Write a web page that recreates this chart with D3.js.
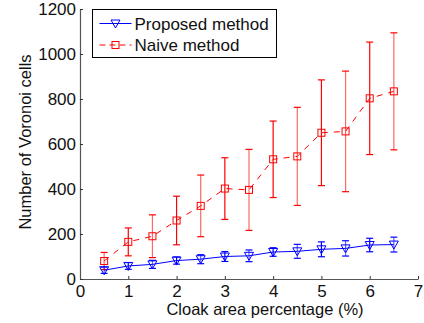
<!DOCTYPE html>
<html>
<head>
<meta charset="utf-8">
<script src="https://cdn.jsdelivr.net/npm/d3@7/dist/d3.min.js"></script>
<style>
  body { margin: 0; background: #fff; }
  svg { display: block; font-family: "Liberation Sans", Arial, sans-serif; }
</style>
</head>
<body>
<div class="chart"></div>
<script>
// data
var xs = [0.5, 1, 1.5, 2, 2.5, 3, 3.5, 4, 4.5, 5, 5.5, 6, 6.5];
var proposed    = [39, 58, 65, 82, 88, 100, 103, 120, 123, 132, 136, 151, 153];
var proposedErr = [14, 15, 18, 16, 20, 22, 26, 19, 31, 33, 34, 30, 33];
var naive    = [80, 165, 190, 260, 325, 402, 396, 532, 545, 650, 656, 803, 834];
var naiveErr = [38, 62, 95, 108, 137, 137, 180, 170, 218, 235, 268, 250, 260];
var xTicks = [0, 1, 2, 3, 4, 5, 6, 7];
var yTicks = [0, 200, 400, 600, 800, 1000, 1200];

var W = 424, H = 323,
    margin = {top: 9, right: 6, bottom: 44, left: 80},
    width = W - margin.left - margin.right,
    height = H - margin.top - margin.bottom;

var svg = d3.select(".chart").append("svg")
    .attr("width", W)
    .attr("height", H);

var g = svg.append("g")
    .attr("transform", "translate(" + margin.left + "," + margin.top + ")");

var x = d3.scaleLinear().domain([0, 7]).range([0, width]);
var y = d3.scaleLinear().domain([0, 1200]).range([height, 0]);

// axes
var xAxis = g.append("g")
    .attr("transform", "translate(0," + height + ")")
    .call(d3.axisBottom(x).tickValues(xTicks).tickFormat(d3.format("d"))
      .tickSizeInner(-3).tickSizeOuter(0).tickPadding(4));
var yAxis = g.append("g")
    .call(d3.axisLeft(y).tickValues(yTicks).tickFormat(d3.format("d"))
      .tickSizeInner(-3).tickSizeOuter(0).tickPadding(4));

[xAxis, yAxis].forEach(function(a) {
  a.select(".domain").attr("stroke", "#555").attr("stroke-width", 1.2);
  a.selectAll(".tick line").attr("stroke", "#333");
  a.selectAll(".tick text").attr("fill", "#111").style("font-size", "17px");
});
xAxis.selectAll(".tick text").attr("dy", "0.85em");

// labels
svg.append("text")
    .attr("x", 265).attr("y", 315)
    .attr("text-anchor", "middle")
    .style("font-size", "16.5px").attr("fill", "#111")
    .text("Cloak area percentage (%)");

svg.append("text")
    .attr("transform", "translate(31,142) rotate(-90)")
    .attr("text-anchor", "middle")
    .style("font-size", "16.5px").attr("fill", "#111")
    .text("Number of Voronoi cells");

var series = [
  {name: "Naive method", vals: naive, err: naiveErr, color: "#ff0000", dash: "6,6", marker: "square"},
  {name: "Proposed method", vals: proposed, err: proposedErr, color: "#0000ff", dash: null, marker: "tri"}
];

var line = d3.line()
    .x(function(d, i) { return x(xs[i]); })
    .y(function(d) { return y(d); });

function drawMarker(sel, type, color) {
  if (type === "square") {
    sel.append("rect")
      .attr("x", -3.5).attr("y", -3.5)
      .attr("width", 7).attr("height", 7)
      .attr("fill", "none").attr("stroke", color).attr("stroke-width", 1);
  } else {
    sel.append("path")
      .attr("d", "M-4.5,-3.5L4.5,-3.5L0,4.5Z")
      .attr("fill", "none").attr("stroke", color).attr("stroke-width", 1);
  }
}

series.forEach(function(s) {
  var sg = g.append("g");
  // error bars
  var eb = sg.selectAll(".err").data(s.vals).enter().append("g")
      .attr("stroke", s.color).attr("stroke-width", 1.2);
  eb.append("line")
      .attr("x1", function(d, i) { return x(xs[i]); })
      .attr("x2", function(d, i) { return x(xs[i]); })
      .attr("y1", function(d, i) { return y(d - s.err[i]); })
      .attr("y2", function(d, i) { return y(d + s.err[i]); })
      .attr("stroke-opacity", function(d, i) { return i % 2 ? 1 : 0.6; });
  [1, -1].forEach(function(sign) {
    eb.append("line")
      .attr("x1", function(d, i) { return x(xs[i]) - 3.5; })
      .attr("x2", function(d, i) { return x(xs[i]) + 3.5; })
      .attr("y1", function(d, i) { return y(d + sign * s.err[i]); })
      .attr("y2", function(d, i) { return y(d + sign * s.err[i]); });
  });
  // line
  sg.append("path")
      .datum(s.vals)
      .attr("d", line)
      .attr("fill", "none")
      .attr("stroke", s.color)
      .attr("stroke-width", 1)
      .attr("stroke-dasharray", s.dash);
  // markers
  sg.selectAll(".mk").data(s.vals).enter().append("g")
      .attr("transform", function(d, i) { return "translate(" + x(xs[i]) + "," + y(d) + ")"; })
      .each(function() { drawMarker(d3.select(this), s.marker, s.color); });
});

// legend
var lg = svg.append("g").attr("transform", "translate(92.5,9.5)");
lg.append("rect")
    .attr("width", 184).attr("height", 48)
    .attr("fill", "#fff").attr("stroke", "#000").attr("stroke-width", 1);
var legendItems = [series[1], series[0]];
legendItems.forEach(function(s, i) {
  var yy = 14 + i * 21.5;
  lg.append("line")
      .attr("x1", 7).attr("x2", 39).attr("y1", yy).attr("y2", yy)
      .attr("stroke", s.color).attr("stroke-width", 1)
      .attr("stroke-dasharray", s.dash ? "6,4" : null);
  var m = lg.append("g").attr("transform", "translate(23," + yy + ")");
  drawMarker(m, s.marker, s.color);
  lg.append("text")
      .attr("x", 42).attr("y", yy).attr("dy", "0.36em")
      .style("font-size", "17px").attr("fill", "#111")
      .text(s.name);
});
</script>
</body>
</html>
